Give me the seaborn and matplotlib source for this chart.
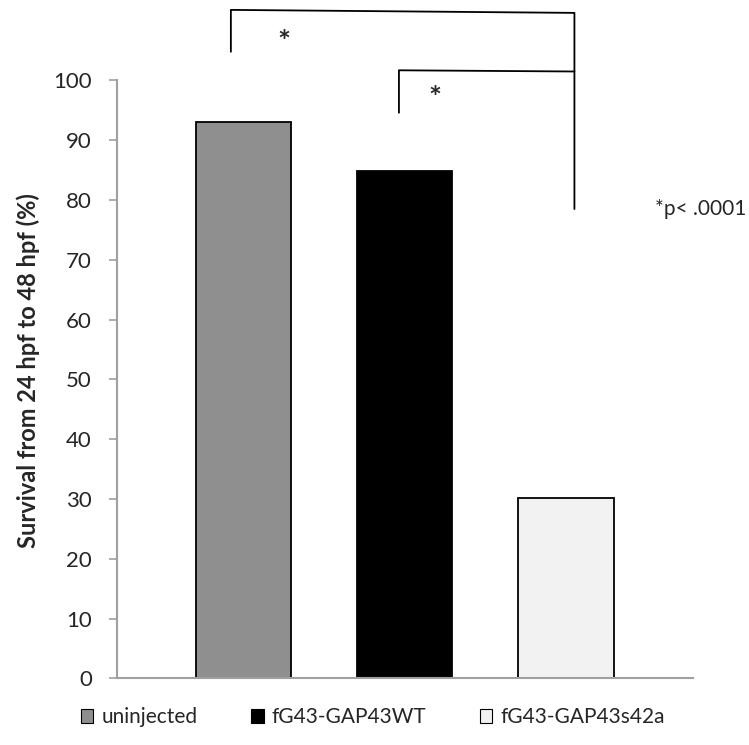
import matplotlib
matplotlib.use("Agg")
import matplotlib.pyplot as plt
from matplotlib.patches import Patch
import seaborn as sns
import pandas as pd

# values
groups = ["uninjected", "fG43-GAP43WT", "fG43-GAP43s42a"]
survival = [93.0, 84.8, 30.2]
bar_colors = ["#8f8f8f", "#000000", "#f2f2f2"]
yticks = [0, 10, 20, 30, 40, 50, 60, 70, 80, 90, 100]

df = pd.DataFrame({"group": groups, "survival": survival})

sns.set_style("white")
plt.rcParams["font.family"] = ["Lato", "DejaVu Sans"]

fig = plt.figure(figsize=(7.49, 7.45), dpi=100)
ax = fig.add_axes([0.1562, 0.0893, 0.769, 0.8027])

sns.barplot(data=df, x="group", y="survival", hue="group", order=groups,
            hue_order=groups, palette=bar_colors, width=0.59,
            edgecolor="black", linewidth=1.3, legend=False, ax=ax)

ax.set_xlim(-0.784, 2.787)
ax.set_ylim(0, 100)
ax.set_yticks(yticks)
ax.set_xticks([])
ax.set_xlabel("")
ax.set_ylabel("Survival from 24 hpf to 48 hpf (%)", fontsize=17,
              fontweight="bold", va="center")
ax.yaxis.set_label_coords(-0.1545, 0.515)
ax.tick_params(axis="y", labelsize=16, length=6, width=1.2,
               color="#a0a0a0", direction="out", left=True, pad=12)

for side in ["top", "right"]:
    ax.spines[side].set_visible(False)
for side in ["left", "bottom"]:
    ax.spines[side].set_color("#a0a0a0")
    ax.spines[side].set_linewidth(1.5)

# significance brackets
kw = dict(color="black", lw=1.3, clip_on=False)
ax.plot([-0.078, -0.078, 2.052, 2.052], [104.8, 111.8, 111.3, 78.5], **kw)
ax.plot([0.964, 0.964, 2.052], [94.6, 101.7, 101.5], **kw)
ax.text(0.249, 106.3, "*", fontsize=22, fontweight="bold",
        ha="center", va="center")
ax.text(1.185, 96.9, "*", fontsize=22, fontweight="bold",
        ha="center", va="center")
fig.text(0.875, 0.719, "*p< .0001", fontsize=15, ha="left", va="center")

handles = [Patch(facecolor=c, edgecolor="black", linewidth=0.8)
           for c in bar_colors]
fig.legend(handles, groups, loc="center left", bbox_to_anchor=(0.083, 0.037),
           ncol=3, frameon=False, fontsize=15, handlelength=0.6,
           handleheight=0.6, handletextpad=0.4, columnspacing=2.55)

fig.savefig("out.png", dpi=100)
